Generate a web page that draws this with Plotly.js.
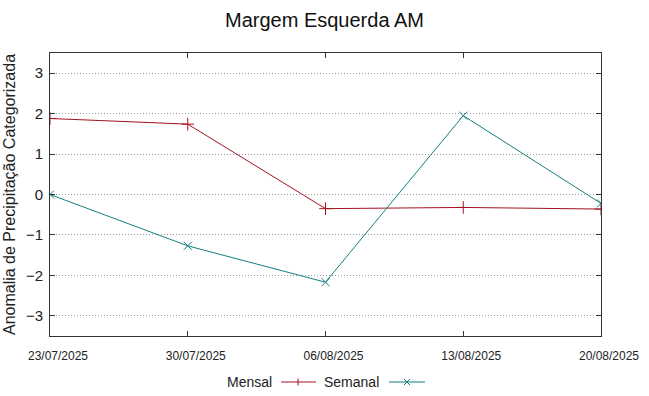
<!DOCTYPE html>
<html>
<head>
<meta charset="utf-8">
<script src="https://cdn.plot.ly/plotly-3.0.1.min.js"></script>
<style>html,body{margin:0;padding:0;background:#fff;}#chart{width:649px;height:396px;}</style>
</head>
<body>
<div id="chart"></div>
<script>
const dates = ["23/07/2025", "30/07/2025", "06/08/2025", "13/08/2025", "20/08/2025"];
const mensal = [1.88, 1.74, -0.35, -0.32, -0.36];
const semanal = [0.0, -1.27, -2.17, 1.95, -0.22];
const yTicks = [-3, -2, -1, 0, 1, 2, 3];

const redC = '#a5121e';
const tealC = '#13807e';
const font = 'Liberation Sans, Arial, sans-serif';

const traces = [
  {x: dates, y: mensal, name: 'Mensal', type: 'scatter', mode: 'lines+markers',
   line: {color: redC, width: 1}, marker: {symbol: 'cross-thin-open', size: 9, line: {color: redC, width: 1}, color: redC}},
  {x: dates, y: semanal, name: 'Semanal', type: 'scatter', mode: 'lines+markers',
   line: {color: tealC, width: 1}, marker: {symbol: 'x-thin-open', size: 8, line: {color: tealC, width: 1}, color: tealC}}
];

function px2x(p){ return (p - 50) / 551; }
function py2y(p){ return (336 - p) / 283; }

const legY = 382;
const shapes = [
  {type:'line', xref:'paper', yref:'paper', x0:px2x(281), x1:px2x(316), y0:py2y(legY), y1:py2y(legY), line:{color:redC, width:1}},
  {type:'line', xref:'paper', yref:'paper', x0:px2x(298), x1:px2x(298), y0:py2y(legY-3.5), y1:py2y(legY+3.5), line:{color:redC, width:1}},
  {type:'line', xref:'paper', yref:'paper', x0:px2x(389), x1:px2x(425), y0:py2y(legY), y1:py2y(legY), line:{color:tealC, width:1}},
  {type:'line', xref:'paper', yref:'paper', x0:px2x(404), x1:px2x(410), y0:py2y(legY-3), y1:py2y(legY+3), line:{color:tealC, width:1}},
  {type:'line', xref:'paper', yref:'paper', x0:px2x(404), x1:px2x(410), y0:py2y(legY+3), y1:py2y(legY-3), line:{color:tealC, width:1}}
];

const annotations = [
  {text:'Mensal', xref:'paper', yref:'paper', x:px2x(274), y:py2y(legY), xanchor:'right', yanchor:'middle', showarrow:false, font:{family:font, size:14, color:'#222'}},
  {text:'Semanal', xref:'paper', yref:'paper', x:px2x(381), y:py2y(legY), xanchor:'right', yanchor:'middle', showarrow:false, font:{family:font, size:14, color:'#222'}}
];

const layout = {
  width: 649, height: 396,
  margin: {l: 50, r: 48, t: 53, b: 60},
  paper_bgcolor: '#fff', plot_bgcolor: '#fff',
  showlegend: false,
  font: {family: font, color: '#222'},
  title: {text: 'Margem Esquerda AM', font: {family: font, size: 20, color: '#111'}, x: 0.5, xanchor: 'center', y: 0.95, yanchor: 'middle'},
  xaxis: {
    type: 'category', range: [0, 4], tickvals: dates, ticktext: dates,
    showgrid: false, zeroline: false,
    showline: true, linecolor: '#333', linewidth: 1, mirror: 'allticks',
    ticks: 'inside', ticklen: 5, tickcolor: '#333',
    ticklabelstandoff: 9, ticklabelshift: 8,
    tickfont: {family: font, size: 12, color: '#222'}
  },
  yaxis: {
    range: [-3.5, 3.5], tickvals: yTicks,
    showgrid: true, gridcolor: '#9a9a9a', griddash: '1px,2px', gridwidth: 1,
    zeroline: false,
    showline: true, linecolor: '#333', linewidth: 1, mirror: 'allticks',
    ticks: 'inside', ticklen: 5, tickcolor: '#333',
    ticklabelstandoff: 3,
    tickfont: {family: font, size: 15, color: '#222'},
    title: {text: 'Anomalia de Precipitação Categorizada', font: {family: font, size: 16, color: '#222'}, standoff: 6}
  },
  shapes: shapes,
  annotations: annotations
};

Plotly.newPlot('chart', traces, layout, {displayModeBar: false, staticPlot: true});
</script>
</body>
</html>
